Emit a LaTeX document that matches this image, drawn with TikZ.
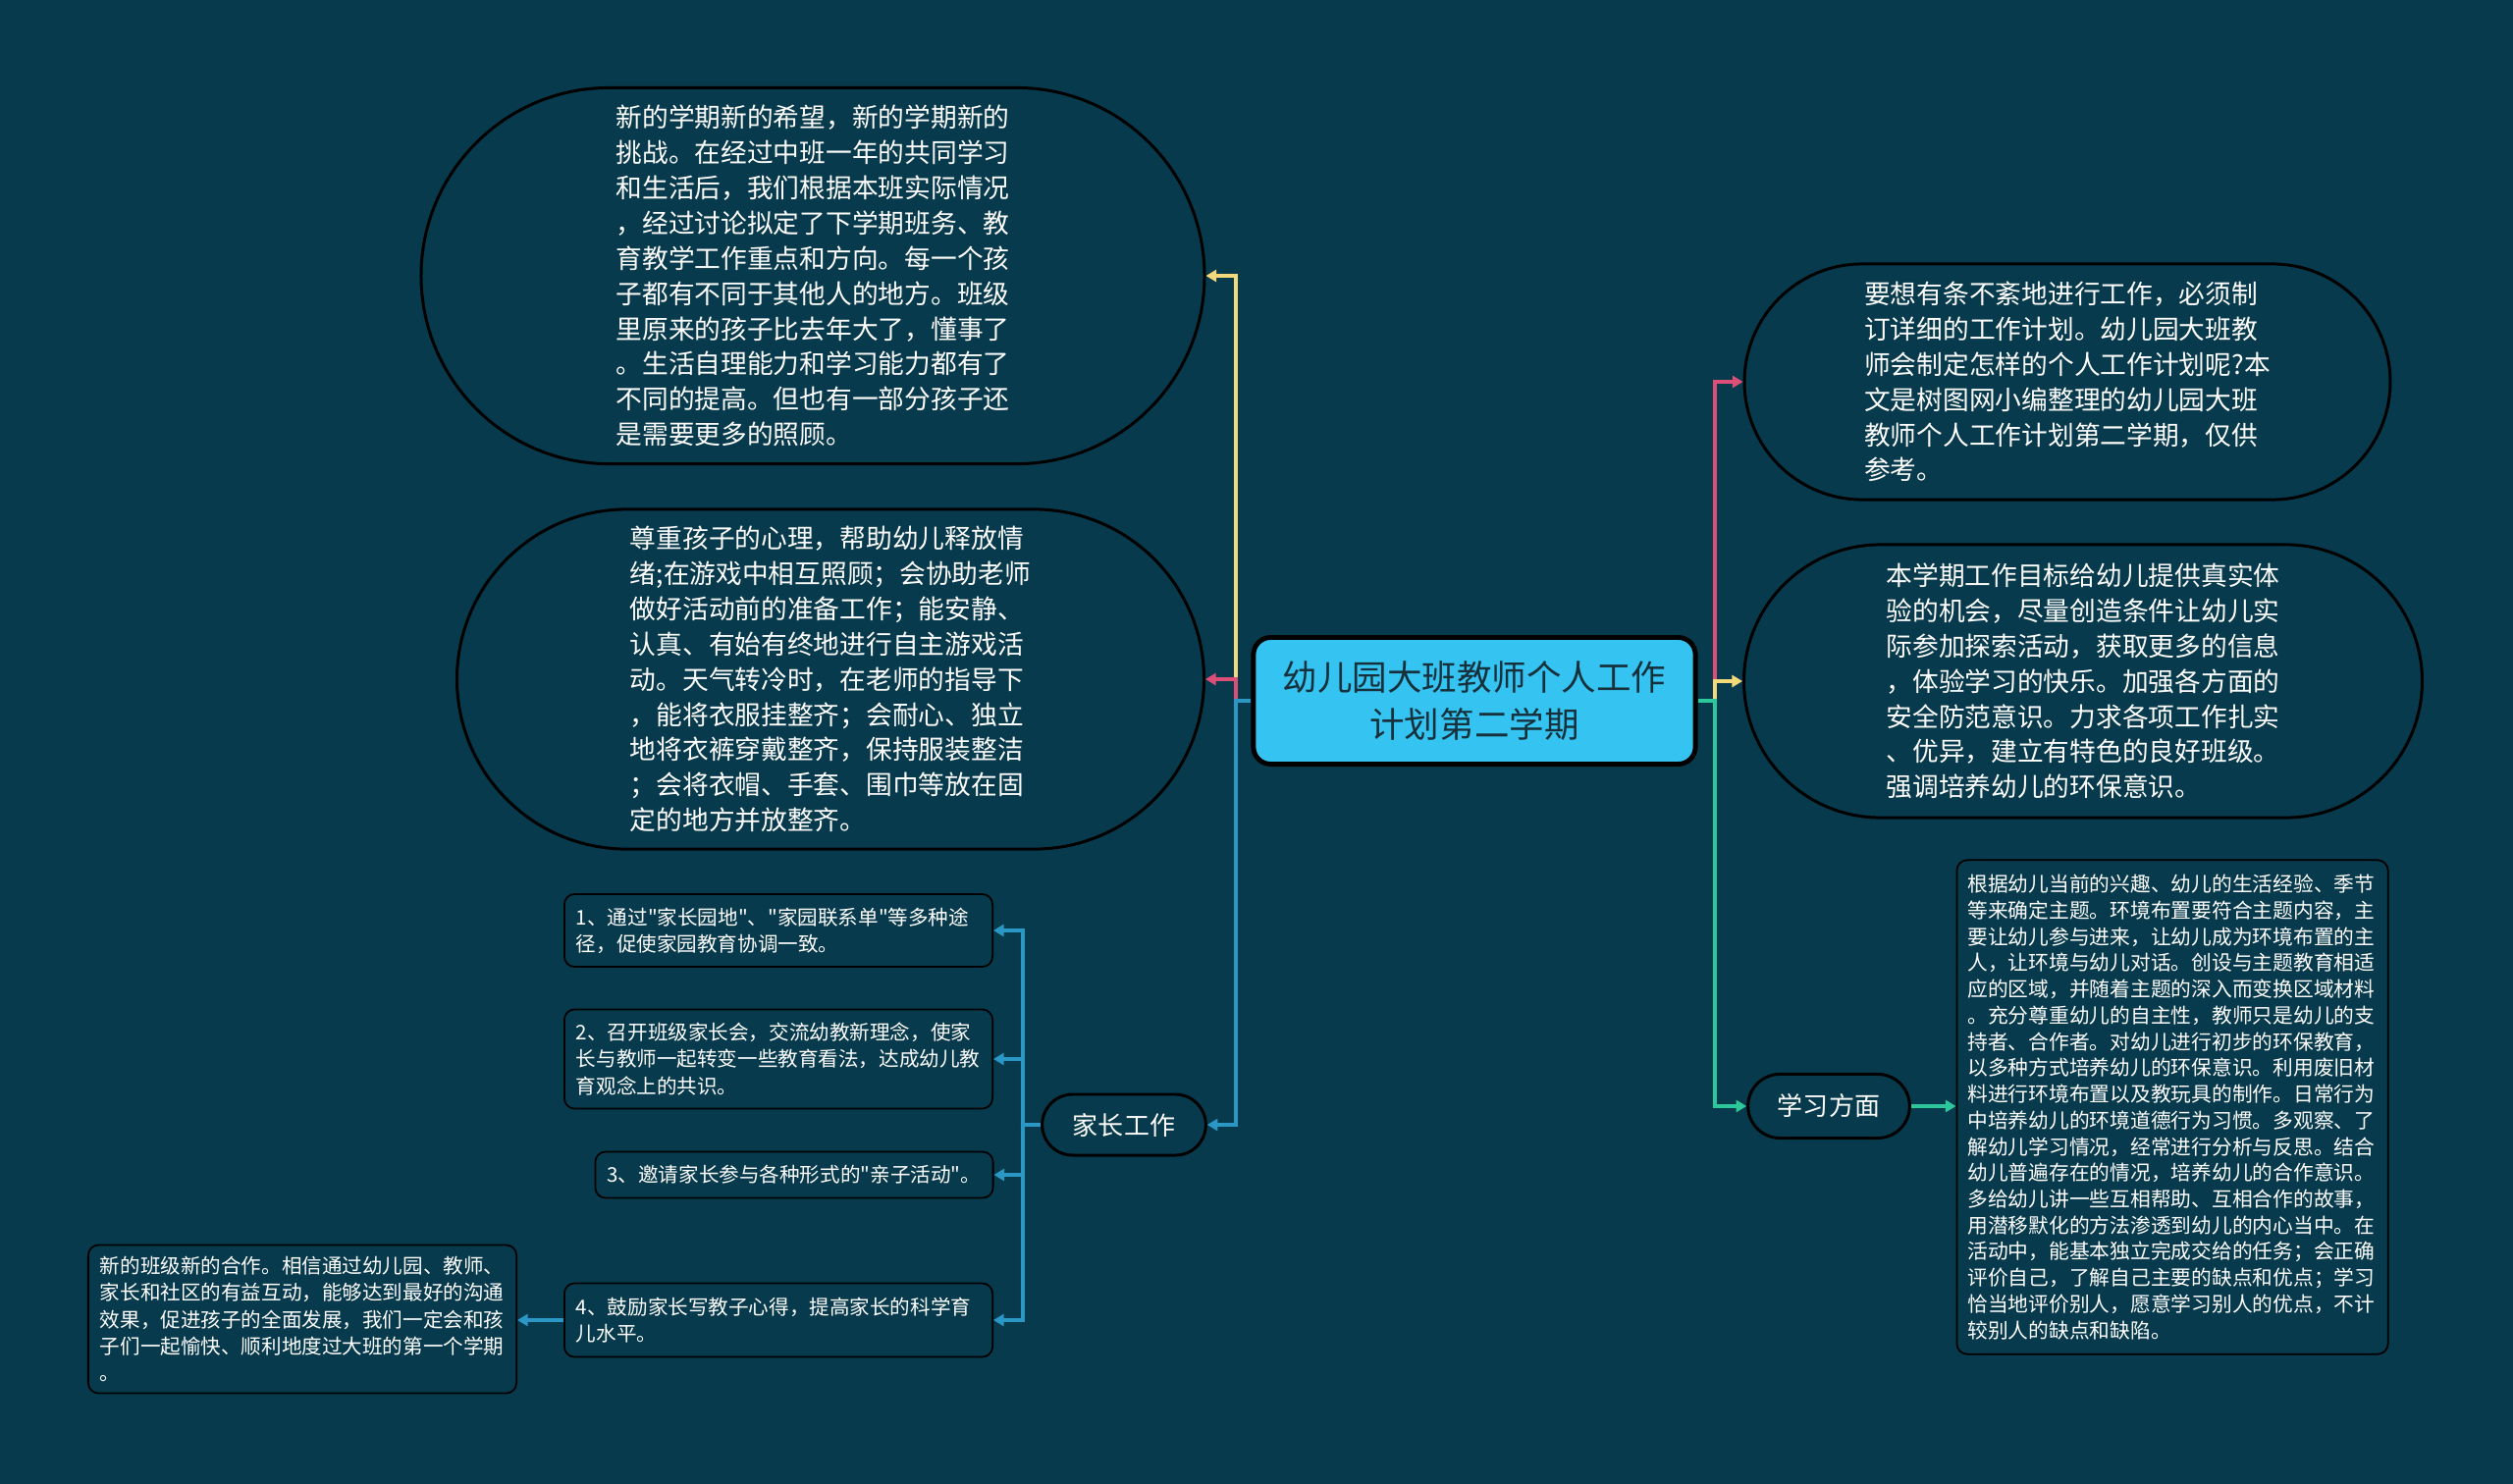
\documentclass[tikz,border=0pt]{standalone}
\usepackage{fontspec}
\setmainfont{Noto Sans CJK SC}[Ligatures=TeXOff]
\usepackage{xcolor}
\usepackage{tikz}
\usetikzlibrary{arrows.meta,shapes.misc}
\definecolor{bgcol}{HTML}{073A4C}
\definecolor{hubfill}{HTML}{35C4F1}
\definecolor{hubtext}{HTML}{16303C}
\definecolor{lnyellow}{HTML}{F3D97A}
\definecolor{lnpink}{HTML}{DE4F78}
\definecolor{lnblue}{HTML}{2A97C4}
\definecolor{lngreen}{HTML}{2CC89B}

\begin{document}
\begin{tikzpicture}[x=0.01cm,y=-0.01cm,>={Triangle[length=3pt,width=3.4pt]},
  bubble/.style={rounded rectangle,draw=black,line width=0.85pt,text=white,align=left,font=\fontsize{7.6}{10.2}\selectfont},
  topic/.style={rounded rectangle,draw=black,line width=0.85pt,text=white,font=\fontsize{7.4}{9}\selectfont},
  leaf/.style={rectangle,rounded corners=3pt,draw=black,line width=0.5pt,text=white,align=left,inner xsep=0.12cm,font=\fontsize{5.85}{7.7}\selectfont},
  link/.style={->,line width=1pt}]
  \useasboundingbox (0,0) rectangle (2560,1512);
  \fill[bgcol] (0,0) rectangle (2560,1512);

  % centre
  \node[rectangle,rounded corners=5pt,draw=black,line width=1.4pt,fill=hubfill,text=hubtext,align=center,minimum width=4.5cm,minimum height=1.29cm,font=\fontsize{10.1}{13.4}\selectfont] (hub) at (1502,714) {幼儿园大班教师个人工作\\计划第二学期};

  % left side
  \node[bubble,minimum width=8.21cm,minimum height=3.83cm] (hope) at (828,281) {新的学期新的希望，新的学期新的\\挑战。在经过中班一年的共同学习\\和生活后，我们根据本班实际情况\\，经过讨论拟定了下学期班务、教\\育教学工作重点和方向。每一个孩\\子都有不同于其他人的地方。班级\\里原来的孩子比去年大了，懂事了\\。生活自理能力和学习能力都有了\\不同的提高。但也有一部分孩子还\\是需要更多的照顾。};
  \node[bubble,minimum width=7.84cm,minimum height=3.46cm] (care) at (846,692) {尊重孩子的心理，帮助幼儿释放情\\绪;在游戏中相互照顾；会协助老师\\做好活动前的准备工作；能安静、\\认真、有始有终地进行自主游戏活\\动。天气转冷时，在老师的指导下\\，能将衣服挂整齐；会耐心、独立\\地将衣裤穿戴整齐，保持服装整洁\\；会将衣帽、手套、围巾等放在固\\定的地方并放整齐。};
  \node[topic,minimum width=1.9cm,minimum height=0.62cm] (parent) at (1145,1146) {家长工作};
  \node[leaf,text width=4.12cm,minimum height=0.74cm] (p1) at (793,948) {1、通过"家长园地"、"家园联系单"等多种途\\径，促使家园教育协调一致。};
  \node[leaf,text width=4.12cm,minimum height=1.01cm] (p2) at (793,1079) {2、召开班级家长会，交流幼教新理念，使家\\长与教师一起转变一些教育看法，达成幼儿教\\育观念上的共识。};
  \node[leaf,text width=3.81cm,minimum height=0.47cm] (p3) at (809,1197) {3、邀请家长参与各种形式的"亲子活动"。};
  \node[leaf,text width=4.12cm,minimum height=0.75cm] (p4) at (793,1345) {4、鼓励家长写教子心得，提高家长的科学育\\儿水平。};
  \node[leaf,text width=4.12cm,minimum height=1.51cm] (p5) at (308,1344) {新的班级新的合作。相信通过幼儿园、教师、\\家长和社区的有益互动，能够达到最好的沟通\\效果，促进孩子的全面发展，我们一定会和孩\\子们一起愉快、顺利地度过大班的第一个学期\\。};

  % right side
  \node[bubble,minimum width=6.81cm,minimum height=2.4cm] (intro) at (2106,389) {要想有条不紊地进行工作，必须制\\订详细的工作计划。幼儿园大班教\\师会制定怎样的个人工作计划呢?本\\文是树图网小编整理的幼儿园大班\\教师个人工作计划第二学期，仅供\\参考。};
  \node[bubble,minimum width=7.14cm,minimum height=2.78cm] (goal) at (2122,694) {本学期工作目标给幼儿提供真实体\\验的机会，尽量创造条件让幼儿实\\际参加探索活动，获取更多的信息\\，体验学习的快乐。加强各方面的\\安全防范意识。力求各项工作扎实\\、优异，建立有特色的良好班级。\\强调培养幼儿的环保意识。};
  \node[topic,minimum width=1.88cm,minimum height=0.65cm] (study) at (1863,1127) {学习方面};
  \node[leaf,text width=4.17cm,inner xsep=0.11cm,minimum height=5.03cm,font=\fontsize{5.9}{7.6}\selectfont] (theme) at (2213,1128) {根据幼儿当前的兴趣、幼儿的生活经验、季节\\等来确定主题。环境布置要符合主题内容，主\\要让幼儿参与进来，让幼儿成为环境布置的主\\人，让环境与幼儿对话。创设与主题教育相适\\应的区域，并随着主题的深入而变换区域材料\\。充分尊重幼儿的自主性，教师只是幼儿的支\\持者、合作者。对幼儿进行初步的环保教育，\\以多种方式培养幼儿的环保意识。利用废旧材\\料进行环境布置以及教玩具的制作。日常行为\\中培养幼儿的环境道德行为习惯。多观察、了\\解幼儿学习情况，经常进行分析与反思。结合\\幼儿普遍存在的情况，培养幼儿的合作意识。\\多给幼儿讲一些互相帮助、互相合作的故事，\\用潜移默化的方法渗透到幼儿的内心当中。在\\活动中，能基本独立完成交给的任务；会正确\\评价自己，了解自己主要的缺点和优点；学习\\恰当地评价别人，愿意学习别人的优点，不计\\较别人的缺点和缺陷。};

  \coordinate (lj) at (1259,714);
  \coordinate (rj) at (1747,714);
  \coordinate (pj) at (1042,1146);

  % connectors
  \draw[link,lnyellow] (hub.west) -- (lj) |- (hope.east);
  \draw[link,lnpink] (hub.west) -- (lj) |- (care.east);
  \draw[link,lnblue] (hub.west) -- (lj) |- (parent.east);
  \draw[link,lnpink] (hub.east) -- (rj) |- (intro.west);
  \draw[link,lnyellow] (hub.east) -- (rj) |- (goal.west);
  \draw[link,lngreen] (hub.east) -- (rj) |- (study.west);
  \draw[link,lngreen] (study.east) -- (study.east -| theme.west);
  \draw[link,lnblue] (parent.west) -- (pj) |- (p1.east);
  \draw[link,lnblue] (parent.west) -- (pj) |- (p2.east);
  \draw[link,lnblue] (parent.west) -- (pj) |- (p3.east);
  \draw[link,lnblue] (parent.west) -- (pj) |- (p4.east);
  \draw[link,lnblue] (p4.west) -- (p4.west -| p5.east);
\end{tikzpicture}
\end{document}
